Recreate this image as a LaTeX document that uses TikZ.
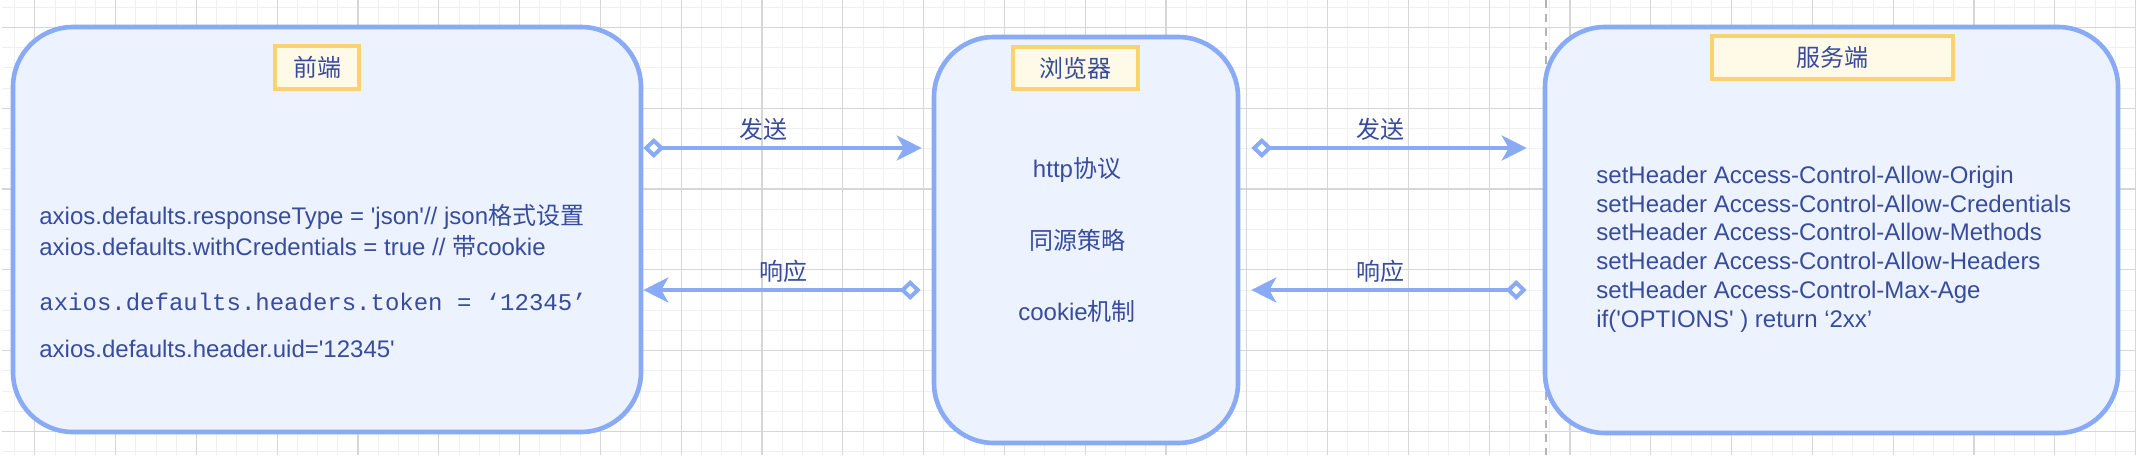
\documentclass[tikz,border=0pt]{standalone}
\usepackage{fontspec}
\usepackage{xcolor}
\usetikzlibrary{arrows.meta}
\newfontfamily\arialfont{Liberation Sans}
\newfontfamily\monofont{Liberation Mono}
\newfontfamily\cjk{Noto Sans CJK SC}
\definecolor{boxline}{RGB}{137,171,245}
\definecolor{boxfill}{RGB}{236,242,254}
\definecolor{tagline}{RGB}{249,211,110}
\definecolor{tagfill}{RGB}{255,249,232}
\definecolor{ink}{RGB}{56,76,158}
\definecolor{gridlight}{RGB}{240,240,240}
\definecolor{griddark}{RGB}{214,214,214}
\definecolor{pagebreak}{RGB}{180,180,180}
\tikzset{
  box/.style={draw=boxline, fill=boxfill, line width=2.3pt, rounded corners=30pt, inner sep=0pt},
  tag/.style={draw=tagline, fill=tagfill, line width=2pt, inner sep=0pt, text=ink, font=\cjk\fontsize{12}{14}\selectfont},
  txt/.style={text=ink, inner sep=0pt, font=\arialfont\fontsize{12}{14.4}\selectfont},
  link/.style={draw=boxline, line width=2pt, {Diamond[fill=white,length=10.5pt,width=10pt]}-{Stealth[length=12.5pt,width=12.5pt,inset=3.5pt]}},
  gridminor/.style={draw=gridlight, line width=0.5pt},
  gridmajor/.style={draw=griddark, line width=0.6pt}
}
\begin{document}
\begin{tikzpicture}[x=0.5pt,y=-0.5pt]
        \useasboundingbox[fill=white] (0,0) rectangle (2136,472);
        % Background grid
        \foreach \k in {-1,...,104} \draw[gridminor] ({34.8+20.2*\k},0) -- ({34.8+20.2*\k},455);
        \foreach \k in {-1,...,21} \draw[gridminor] (2,{27.4+20.2*\k}) -- (2136,{27.4+20.2*\k});
        \foreach \k in {0,...,26} \draw[gridmajor] ({34.8+80.8*\k},0) -- ({34.8+80.8*\k},455);
        \foreach \k in {0,...,5} \draw[gridmajor] (2,{27.4+80.8*\k}) -- (2136,{27.4+80.8*\k});
        % Page break line
        \draw[pagebreak, line width=0.6pt, dash pattern=on 4pt off 3pt] (1546,0) -- (1546,455);
        % Front end
        \node[box, minimum width=314pt, minimum height=202.5pt] (front) at (327,229.5) {};
        \node[tag, minimum width=42pt, minimum height=21.5pt] (fronttag) at (317,67.5) {前端};
        \node[txt, anchor=west] (f1) at (39,217) {axios.defaults.responseType = 'json'// json{\cjk 格式设置}};
        \node[txt, anchor=west] (f2) at (39,246) {axios.defaults.withCredentials = true // {\cjk 带}cookie};
        \node[txt, anchor=west, font=\monofont\fontsize{12}{14.4}\selectfont] (f3) at (39,302) {axios.defaults.headers.token = ‘12345’};
        \node[txt, anchor=west] (f4) at (39,349) {axios.defaults.header.uid='12345'};
        % Browser
        \node[box, minimum width=152pt, minimum height=203pt] (browser) at (1086,240) {};
        \node[tag, minimum width=62.5pt, minimum height=21pt] (browsertag) at (1075.5,68) {浏览器};
        \node[txt] (b1) at (1077,170) {http{\cjk 协议}};
        \node[txt, font=\cjk\fontsize{12}{14.4}\selectfont] (b2) at (1077,240) {同源策略};
        \node[txt] (b3) at (1077,311) {cookie{\cjk 机制}};
        % Server
        \node[box, minimum width=286.5pt, minimum height=203pt] (server) at (1831.5,230) {};
        \node[tag, minimum width=120.5pt, minimum height=21.5pt] (servertag) at (1832.5,57.5) {服务端};
        \node[txt, anchor=west, align=left] (s1) at (1596,249) {setHeader Access-Control-Allow-Origin\\
          setHeader Access-Control-Allow-Credentials\\
          setHeader Access-Control-Allow-Methods\\
          setHeader Access-Control-Allow-Headers\\
          setHeader Access-Control-Max-Age\\
          if('OPTIONS' ) return ‘2xx’};
        % Requests and responses
        \draw[link, shorten >=5pt] (front.east |- 0,148) -- (browser.west |- 0,148);
        \node[txt, font=\cjk\fontsize{12}{14.4}\selectfont] (send1) at (763,129) {发送};
        \draw[link, shorten <=5.5pt] (browser.west |- 0,290) -- (front.east |- 0,290);
        \node[txt, font=\cjk\fontsize{12}{14.4}\selectfont] (resp1) at (783,271) {响应};
        \draw[link, shorten <=5.5pt, shorten >=8pt] (browser.east |- 0,148) -- (server.west |- 0,148);
        \node[txt, font=\cjk\fontsize{12}{14.4}\selectfont] (send2) at (1380,129) {发送};
        \draw[link, shorten <=8pt, shorten >=5.5pt] (server.west |- 0,290) -- (browser.east |- 0,290);
        \node[txt, font=\cjk\fontsize{12}{14.4}\selectfont] (resp2) at (1380,271) {响应};
    \end{tikzpicture}
\end{document}
